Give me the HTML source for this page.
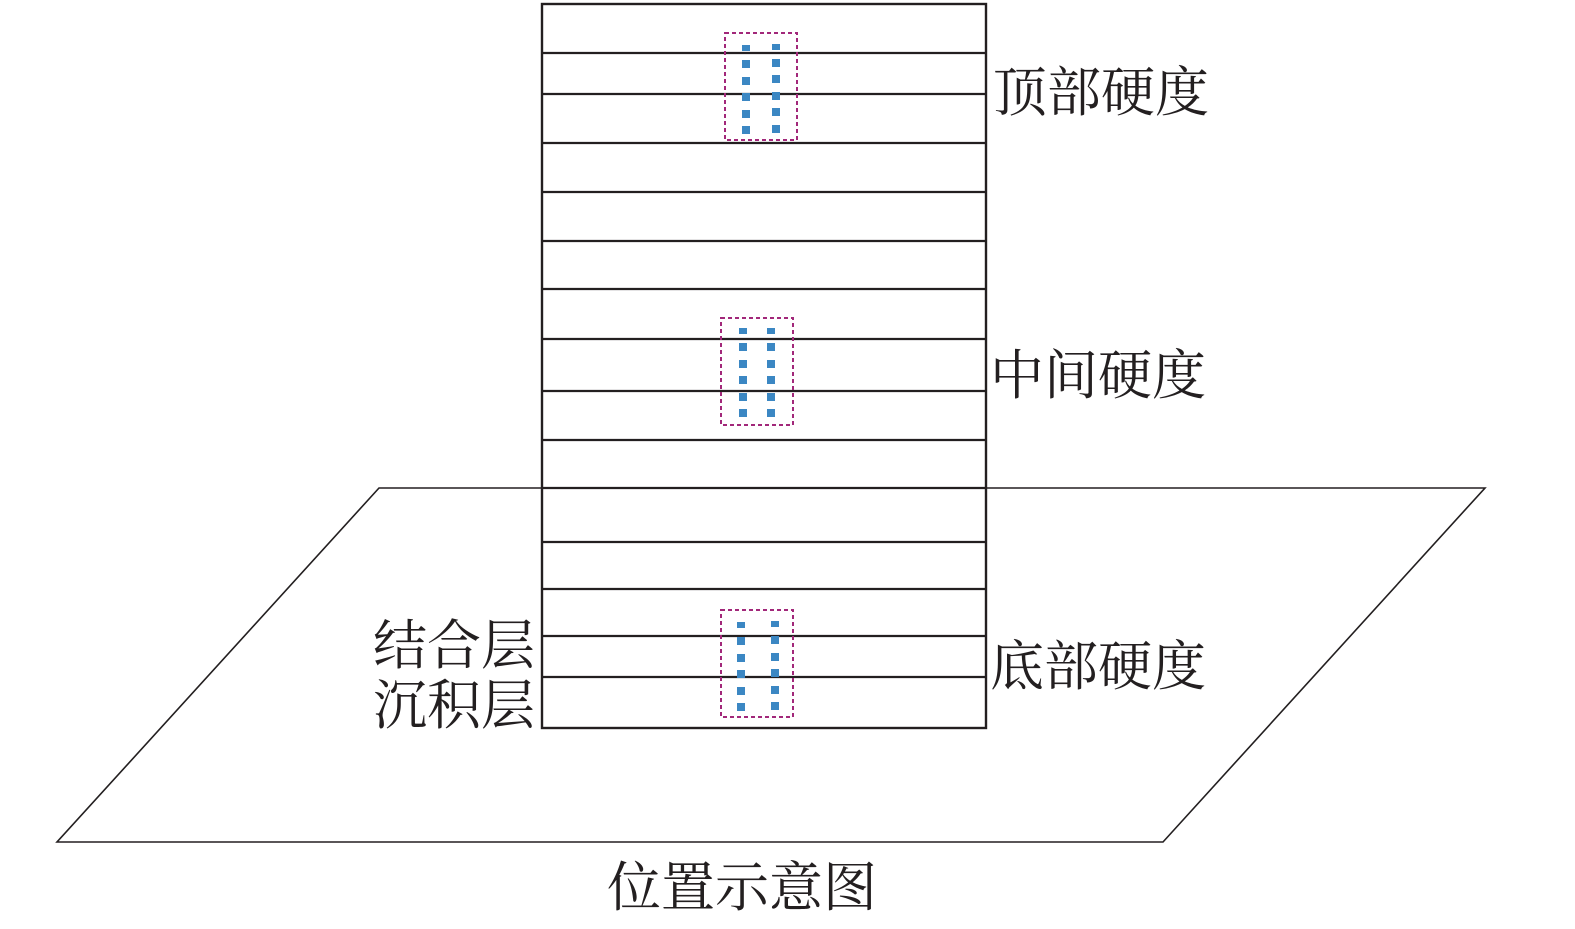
<!DOCTYPE html>
<html><head><meta charset="utf-8"><style>html,body{margin:0;padding:0;background:#fff}svg{display:block}
text{font-family:"Liberation Serif","Noto Serif CJK SC",serif;font-size:54px;fill:#231f20}</style></head>
<body>
<svg width="1575" height="929" viewBox="0 0 1575 929" xmlns="http://www.w3.org/2000/svg">
<polygon points="379,488 1485,488 1163,842 57,842" fill="none" stroke="#231f20" stroke-width="1.6"/>
<rect x="542" y="4" width="444" height="724" fill="#fff" stroke="#231f20" stroke-width="2.4"/>
<g stroke="#231f20" stroke-width="2.2">
<line x1="542" x2="986" y1="53" y2="53"/><line x1="542" x2="986" y1="94" y2="94"/>
<line x1="542" x2="986" y1="143" y2="143"/><line x1="542" x2="986" y1="192" y2="192"/>
<line x1="542" x2="986" y1="241" y2="241"/><line x1="542" x2="986" y1="289" y2="289"/>
<line x1="542" x2="986" y1="339" y2="339"/><line x1="542" x2="986" y1="391" y2="391"/>
<line x1="542" x2="986" y1="440" y2="440"/><line x1="542" x2="986" y1="488" y2="488"/>
<line x1="542" x2="986" y1="542" y2="542"/><line x1="542" x2="986" y1="589" y2="589"/>
<line x1="542" x2="986" y1="636" y2="636"/><line x1="542" x2="986" y1="677" y2="677"/>
</g>
<g fill="none" stroke="#a2287a" stroke-width="2" stroke-dasharray="4,3">
<rect x="725" y="33" width="72" height="107"/>
<rect x="721" y="318" width="72" height="107"/>
<rect x="721" y="610" width="72" height="107"/>
</g>
<g fill="#3b87c3">
<rect x="742" y="45" width="8" height="6"/><rect x="742" y="60" width="8" height="8"/><rect x="742" y="77" width="8" height="8"/><rect x="742" y="93" width="8" height="8"/><rect x="742" y="110" width="8" height="8"/><rect x="742" y="126" width="8" height="8"/>
<rect x="772" y="44" width="8" height="6"/><rect x="772" y="59" width="8" height="8"/><rect x="772" y="75" width="8" height="8"/><rect x="772" y="92" width="8" height="8"/><rect x="772" y="108" width="8" height="8"/><rect x="772" y="125" width="8" height="8"/>
<rect x="739" y="328" width="8" height="6"/><rect x="739" y="343" width="8" height="8"/><rect x="739" y="360" width="8" height="8"/><rect x="739" y="376" width="8" height="8"/><rect x="739" y="393" width="8" height="8"/><rect x="739" y="409" width="8" height="8"/>
<rect x="767" y="328" width="8" height="6"/><rect x="767" y="343" width="8" height="8"/><rect x="767" y="360" width="8" height="8"/><rect x="767" y="376" width="8" height="8"/><rect x="767" y="393" width="8" height="8"/><rect x="767" y="409" width="8" height="8"/>
<rect x="737" y="622" width="8" height="6"/><rect x="737" y="637" width="8" height="8"/><rect x="737" y="654" width="8" height="8"/><rect x="737" y="670" width="8" height="8"/><rect x="737" y="687" width="8" height="8"/><rect x="737" y="703" width="8" height="8"/>
<rect x="771" y="621" width="8" height="6"/><rect x="771" y="636" width="8" height="8"/><rect x="771" y="653" width="8" height="8"/><rect x="771" y="669" width="8" height="8"/><rect x="771" y="686" width="8" height="8"/><rect x="771" y="702" width="8" height="8"/>
</g>
<text x="993" y="111">顶部硬度</text>
<text x="990" y="394">中间硬度</text>
<text x="990" y="685">底部硬度</text>
<text x="535" y="664" text-anchor="end">结合层</text>
<text x="535" y="724" text-anchor="end">沉积层</text>
<text x="607" y="906">位置示意图</text>
</svg>
</body></html>
